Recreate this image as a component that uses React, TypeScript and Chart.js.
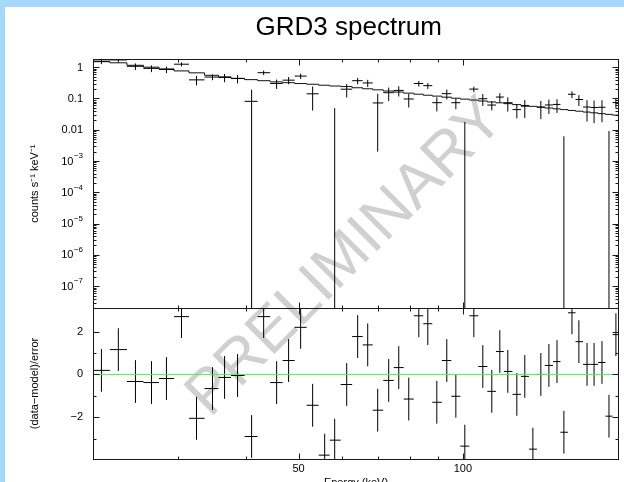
import { useEffect, useRef } from "react";
import { Chart, registerables } from "chart.js";

Chart.register(...registerables);

const FONT = '"Liberation Sans", Arial, Helvetica, sans-serif';

// ---- data (keV, counts s^-1 keV^-1) ----
const binEdges = [
  21.0, 22.55, 24.23, 25.98, 27.75, 29.56, 31.49, 33.62, 35.67, 37.6,
  39.81, 42.06, 44.35, 46.75, 49.18, 51.73, 54.42, 57.02, 59.72, 62.69,
  65.54, 68.38, 71.47, 74.71, 77.93, 81.31, 84.63, 87.9, 91.52, 95.26,
  98.95, 102.78, 106.76, 110.9, 115.0, 118.9, 123.3, 127.8, 132.2, 136.7,
  141.4, 146.3, 151.0, 155.9, 160.9, 166.1, 171.4, 176.9, 182.6, 188.1,
  193.3,
];
const binCenters = [
  21.76, 23.37, 25.12, 26.88, 28.63, 30.51, 32.5, 34.77, 36.59, 38.65,
  41.01, 43.15, 45.58, 47.94, 50.44, 53.06, 55.82, 58.23, 61.26, 64.16,
  66.94, 69.82, 73.14, 76.31, 79.6, 83.05, 86.26, 89.61, 93.46, 97.1,
  100.85, 104.76, 108.8, 113.0, 116.9, 120.9, 125.6, 129.9, 134.4, 139.0,
  143.8, 148.8, 153.2, 158.5, 163.2, 168.9, 174.0, 179.9, 185.3, 190.8,
];
const modelRate = [
  1.5, 1.38, 1.15, 1.0, 0.88, 0.76, 0.66, 0.55, 0.49, 0.44,
  0.4, 0.37, 0.34, 0.32, 0.3, 0.285, 0.265, 0.25, 0.24, 0.22,
  0.204, 0.189, 0.173, 0.16, 0.148, 0.137, 0.127, 0.119, 0.11, 0.102,
  0.0954, 0.089, 0.083, 0.0774, 0.0727, 0.0683, 0.0636, 0.0598, 0.0561, 0.0528,
  0.0495, 0.0465, 0.0441, 0.0414, 0.0392, 0.0368, 0.0348, 0.0327, 0.031, 0.0294,
];
const dataRate = [
  1.557, 1.705, 1.067, 0.916, 0.842, 1.246, 0.3935, 0.484, 0.47, 0.4335,
  0.081, 0.667, 0.302, 0.385, 0.52, 0.141, -0.112, -0.0478, 0.198, 0.37,
  0.314, 0.072, 0.153, 0.181, 0.0963, 0.301, 0.257, 0.0735, 0.1425, 0.0734,
  -0.0152, 0.199, 0.098, 0.0616, 0.111, 0.0732, 0.0441, 0.0568, -0.0556, 0.0528,
  0.062, 0.0645, -0.0161, 0.1364, 0.0928, 0.0533, 0.0513, 0.0523, -0.0139, 0.074,
];
const dataErr = [
  0.3, 0.28, 0.25, 0.22, 0.2, 0.18, 0.13, 0.1, 0.14, 0.13,
  0.11, 0.11, 0.1, 0.1, 0.1, 0.1, 0.1, 0.097, 0.09, 0.085,
  0.08, 0.07, 0.07, 0.065, 0.045, 0.06, 0.055, 0.035, 0.05, 0.028,
  0.033, 0.04, 0.04, 0.02, 0.036, 0.035, 0.021, 0.033, 0.032, 0.031,
  0.03, 0.03, 0.0223, 0.033, 0.035, 0.035, 0.035, 0.035, 0.023, 0.024,
];
const residual = [
  0.19, 1.16, -0.33, -0.38, -0.19, 2.7, -2.05, -0.66, -0.14, -0.05,
  -2.9, 2.7, -0.38, 0.65, 2.2, -1.44, -3.77, -3.07, -0.47, 1.77,
  1.38, -1.67, -0.28, 0.32, -1.15, 2.74, 2.37, -1.3, 0.65, -1.02,
  -3.35, 2.74, 0.37, -0.79, 1.07, 0.14, -0.93, -0.09, -3.49, 0.0,
  0.42, 0.6, -2.7, 2.88, 1.53, 0.47, 0.47, 0.56, -1.95, 1.86,
];
const RESID_ERR = 1;

// ---- axes ----
const X_MIN = 21;
const X_MAX = 193.3;
const RATE_MIN = 2e-8;
const RATE_MAX = 1.8;
const RES_MIN = -3.95;
const RES_MAX = 3.1;

const xMajorTicks = [50, 100];
const xMajorLabels = ["50", "100"];
const xMinorTicks = [30, 40, 60, 70, 80, 90];
const rateTicks = [1, 0.1, 0.01, 1e-3, 1e-4, 1e-5, 1e-6, 1e-7];
const rateTickBase = ["1", "0.1", "0.01", "10", "10", "10", "10", "10"];
const rateTickExp = ["", "", "", "−3", "−4", "−5", "−6", "−7"];
const residTicks = [2, 0, -2];
const residTickLabels = ["2", "0", "−2"];
const residMinorTicks = [1, -1, -3];

const TITLE = "GRD3 spectrum";
const X_TITLE = "Energy (keV)";
const RATE_TITLE = "counts s⁻¹ keV⁻¹";
const RES_TITLE = "(data−model)/error";
const WATERMARK = "PRELIMINARY";

type P = { x: number; y: number | null };

function modelSteps(): P[] {
  const pts: P[] = modelRate.map((v, i) => ({ x: binEdges[i], y: v }));
  pts.push({ x: binEdges[binEdges.length - 1], y: modelRate[modelRate.length - 1] });
  return pts;
}

function rateCrosses(): P[] {
  const pts: P[] = [];
  for (let i = 0; i < dataRate.length; i++) {
    const v = dataRate[i];
    const e = dataErr[i];
    const c = binCenters[i];
    if (v > 0) {
      pts.push({ x: binEdges[i], y: v }, { x: binEdges[i + 1], y: v }, { x: c, y: null });
    }
    const hi = v + e;
    if (hi > 0) {
      const lo = v - e > 0 ? v - e : RATE_MIN / 100;
      pts.push({ x: c, y: lo }, { x: c, y: hi }, { x: c, y: null });
    }
  }
  return pts;
}

function residCrosses(): P[] {
  const pts: P[] = [];
  for (let i = 0; i < residual.length; i++) {
    const r = residual[i];
    const c = binCenters[i];
    pts.push({ x: binEdges[i], y: r }, { x: binEdges[i + 1], y: r }, { x: c, y: null });
    pts.push({ x: c, y: r - RESID_ERR }, { x: c, y: r + RESID_ERR }, { x: c, y: null });
  }
  return pts;
}

const FRAME = "#1a1a1a";
const MAJOR = 6;
const MINOR = 3;

const frameTicksPlugin = {
  id: "frameTicks",
  afterDatasetsDraw(chart: any) {
    const ctx = chart.ctx as CanvasRenderingContext2D;
    const xs = chart.scales.x;
    const yt = chart.scales.y;
    const yr = chart.scales.yr;
    const L = Math.round(xs.left) + 0.5;
    const R = Math.round(xs.right) - 0.5;
    ctx.save();
    ctx.strokeStyle = FRAME;
    ctx.lineWidth = 1;
    const line = (x1: number, y1: number, x2: number, y2: number) => {
      ctx.beginPath();
      ctx.moveTo(x1, y1);
      ctx.lineTo(x2, y2);
      ctx.stroke();
    };
    for (const ys of [yt, yr]) {
      const T = Math.round(ys.top) + 0.5;
      const B = Math.round(ys.bottom) + 0.5;
      ctx.strokeRect(L, T, R - L, B - T);
      const xt = (v: number, len: number) => {
        const p = Math.round(xs.getPixelForValue(v)) + 0.5;
        line(p, T, p, T + len);
        line(p, B, p, B - len);
      };
      xMajorTicks.forEach((v) => xt(v, MAJOR));
      xMinorTicks.forEach((v) => xt(v, MINOR));
    }
    const yTick = (ys: any, v: number, len: number) => {
      const p = Math.round(ys.getPixelForValue(v)) + 0.5;
      line(L, p, L + len, p);
      line(R, p, R - len, p);
    };
    rateTicks.forEach((v) => yTick(yt, v, MAJOR));
    for (let d = -8; d <= 0; d++) {
      for (let m = 2; m <= 9; m++) {
        const v = m * Math.pow(10, d);
        if (v > RATE_MIN && v < RATE_MAX) yTick(yt, v, MINOR);
      }
    }
    residTicks.forEach((v) => yTick(yr, v, MAJOR));
    residMinorTicks.forEach((v) => yTick(yr, v, MINOR));

    // rate tick labels with true superscripts
    const xr = yt.right - 10;
    ctx.fillStyle = "#000";
    ctx.textBaseline = "middle";
    ctx.textAlign = "right";
    rateTicks.forEach((v, i) => {
      const p = yt.getPixelForValue(v);
      const exp = rateTickExp[i];
      let x = xr;
      if (exp) {
        ctx.font = `8px ${FONT}`;
        ctx.fillText(exp, x, p - 5);
        x -= ctx.measureText(exp).width + 0.5;
      }
      ctx.font = `11px ${FONT}`;
      ctx.fillText(rateTickBase[i], x, p + 0.5);
    });
    ctx.restore();
  },
};

const watermarkPlugin = {
  id: "watermark",
  beforeDatasetsDraw(chart: any) {
    const ctx = chart.ctx as CanvasRenderingContext2D;
    const a = chart.chartArea;
    ctx.save();
    ctx.translate((a.left + a.right) / 2 - 10, 251);
    ctx.rotate(-Math.PI / 4);
    ctx.font = `62px ${FONT}`;
    ctx.fillStyle = "#d0d0d0";
    ctx.textAlign = "center";
    ctx.textBaseline = "middle";
    ctx.fillText(WATERMARK, 0, 0);
    ctx.restore();
  },
};

const tickFont = { family: FONT, size: 11 };

export default function App() {
  const ref = useRef<HTMLCanvasElement>(null);
  useEffect(() => {
    const canvas = ref.current;
    if (!canvas) return;
    Chart.defaults.font.family = FONT;
    const chart = new Chart(canvas, {
      type: "line",
      data: {
        datasets: [
          {
            data: [
              { x: X_MIN, y: 0 },
              { x: X_MAX, y: 0 },
            ],
            xAxisID: "x",
            yAxisID: "yr",
            borderColor: "#4ff04f",
            borderWidth: 1,
            pointRadius: 0,
            order: 0,
          },
          {
            data: residCrosses(),
            xAxisID: "x",
            yAxisID: "yr",
            borderColor: "#000",
            borderWidth: 1,
            pointRadius: 0,
            spanGaps: false,
            order: 1,
          },
          {
            data: rateCrosses(),
            xAxisID: "x",
            yAxisID: "y",
            borderColor: "#000",
            borderWidth: 1,
            pointRadius: 0,
            spanGaps: false,
            order: 1,
          },
          {
            data: modelSteps(),
            xAxisID: "x",
            yAxisID: "y",
            borderColor: "#111",
            borderWidth: 1,
            pointRadius: 0,
            stepped: "before",
            order: 2,
          },
        ],
      } as any,
      options: {
        animation: false,
        responsive: false,
        maintainAspectRatio: false,
        events: [],
        layout: { padding: { left: 0, right: 5, top: 0, bottom: 0 } },
        plugins: {
          legend: { display: false },
          tooltip: { enabled: false },
          title: {
            display: true,
            text: TITLE + "  ",
            fullSize: false,
            color: "#000",
            font: { family: FONT, size: 26, weight: "normal" },
            padding: { top: 5, bottom: 16 },
          },
        },
        scales: {
          x: {
            type: "logarithmic",
            position: "bottom",
            min: X_MIN,
            max: X_MAX,
            afterBuildTicks: (s: any) => {
              s.ticks = xMajorTicks.map((v) => ({ value: v }));
            },
            afterFit: (s: any) => {
              s.height = 48;
            },
            grid: { display: false, drawTicks: false },
            border: { display: false },
            ticks: {
              autoSkip: false,
              maxRotation: 0,
              padding: 3,
              color: "#000",
              font: tickFont,
              callback: (_v: any, i: number) => xMajorLabels[i],
            },
            title: {
              display: true,
              text: X_TITLE,
              color: "#000",
              font: tickFont,
              padding: { top: 0, bottom: 17 },
            },
          },
          yr: {
            type: "linear",
            position: "left",
            stack: "panels",
            stackWeight: 151,
            min: RES_MIN,
            max: RES_MAX,
            afterBuildTicks: (s: any) => {
              s.ticks = residTicks.map((v) => ({ value: v }));
            },
            afterFit: (s: any) => {
              s.width = 88;
            },
            grid: { display: false, drawTicks: false },
            border: { display: false },
            ticks: {
              autoSkip: false,
              padding: 10,
              color: "#000",
              font: tickFont,
              callback: (_v: any, i: number) => residTickLabels[i],
            },
            title: {
              display: true,
              text: RES_TITLE,
              color: "#000",
              font: tickFont,
              padding: { top: 23, bottom: 0 },
            },
          },
          y: {
            type: "logarithmic",
            position: "left",
            stack: "panels",
            stackWeight: 249,
            min: RATE_MIN,
            max: RATE_MAX,
            afterBuildTicks: (s: any) => {
              s.ticks = rateTicks.map((v) => ({ value: v }));
            },
            afterFit: (s: any) => {
              s.width = 88;
            },
            grid: { display: false, drawTicks: false },
            border: { display: false },
            ticks: { display: false },
            title: {
              display: true,
              text: RATE_TITLE,
              color: "#000",
              font: tickFont,
              padding: { top: 23, bottom: 0 },
            },
          },
        },
      } as any,
      plugins: [watermarkPlugin, frameTicksPlugin],
    });
    return () => chart.destroy();
  }, []);

  return (
    <div
      style={{
        position: "fixed",
        left: 0,
        top: 0,
        width: "100vw",
        height: "100vh",
        background: "#a5d8f9",
        overflow: "hidden",
      }}
    >
      <div
        style={{
          position: "absolute",
          left: 5,
          top: 7,
          width: 619,
          height: 500,
          background: "#fff",
        }}
      >
        <canvas ref={ref} width={619} height={500} style={{ display: "block" }} />
      </div>
    </div>
  );
}
